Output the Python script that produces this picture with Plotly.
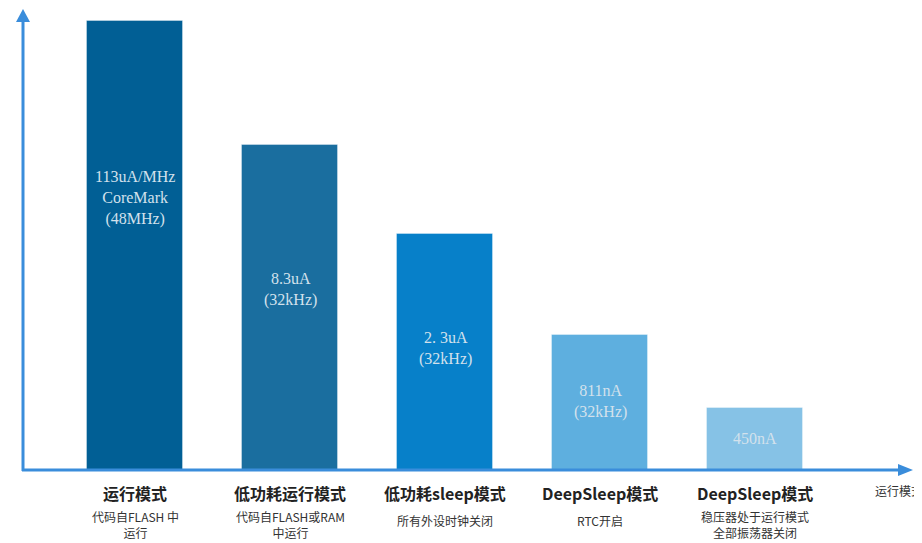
import plotly.graph_objects as go

categories = ["运行模式", "低功耗运行模式", "低功耗sleep模式", "DeepSleep模式", "DeepSleep模式 "]
sub_labels = ["代码自FLASH 中<br>运行", "代码自FLASH或RAM<br>中运行", "所有外设时钟关闭", "RTC开启", "稳压器处于运行模式<br>全部振荡器关闭"]
bar_heights = [449, 325, 236, 135, 62]
bar_texts = ["113uA/MHz<br>CoreMark<br>(48MHz)", "8.3uA<br>(32kHz)", "2. 3uA<br>(32kHz)", "811nA<br>(32kHz)", "450nA"]
bar_colors = ["#015f95", "#1a6e9f", "#0780c9", "#5eafdf", "#86c2e6"]
text_y = [272, 181, 122, 69, 32]
x_axis_label = "运行模式"

OFF = 8  # page body margin
W, H = 922 - OFF, 543 - OFF
AX = "#3a8ddb"

def px(x):
    return (x - OFF) / W

def py(y):
    return 1 - (y - OFF) / H

X0 = 135 - OFF  # pixel of first bar centre in figure
fig = go.Figure()
fig.add_trace(go.Bar(
    x=list(range(len(categories))), y=bar_heights,
    marker=dict(color=bar_colors, line=dict(color="rgba(255,255,255,0.35)", width=1)),
    width=0.62, hoverinfo="skip",
))

ann = []
for i, c in enumerate(categories):
    ann.append(dict(x=i, y=-23, xref="x", yref="y", text="<b>" + c.strip() + "</b>", showarrow=False,
                    font=dict(family="Noto Sans CJK SC", size=16, color="#222222"), yanchor="middle"))
    two = "<br>" in sub_labels[i]
    ann.append(dict(x=i, y=-72 if two else -50, xref="x", yref="y", text=sub_labels[i], showarrow=False,
                    font=dict(family="Noto Sans CJK SC", size=12, color="#333333"),
                    yanchor="bottom" if two else "middle", borderpad=0))
    ann.append(dict(x=i, y=text_y[i], xref="x", yref="y", text=bar_texts[i], showarrow=False,
                    font=dict(family="Liberation Serif", size=16, color="#d3e1ec"), yanchor="middle"))
ann.append(dict(x=px(873), y=py(490), xref="paper", yref="paper", text=x_axis_label, showarrow=False,
                xanchor="left", yanchor="middle",
                font=dict(family="Noto Sans CJK SC", size=12, color="#333333")))

shapes = [
    dict(type="line", xref="paper", yref="paper", x0=px(23), x1=px(23), y0=py(471), y1=py(20),
         line=dict(color=AX, width=3)),
    dict(type="line", xref="paper", yref="paper", x0=px(22), x1=px(900), y0=py(470), y1=py(470),
         line=dict(color=AX, width=3)),
    dict(type="path", xref="paper", yref="paper",
         path=f"M {px(23)} {py(9)} L {px(30)} {py(22)} L {px(16)} {py(22)} Z",
         fillcolor=AX, line=dict(color=AX, width=0)),
    dict(type="path", xref="paper", yref="paper",
         path=f"M {px(913)} {py(470)} L {px(898)} {py(464)} L {px(898)} {py(476)} Z",
         fillcolor=AX, line=dict(color=AX, width=0)),
]

fig.update_layout(
    width=W, height=H, margin=dict(l=0, r=0, t=0, b=0),
    plot_bgcolor="white", paper_bgcolor="white", showlegend=False,
    xaxis=dict(range=[-X0 / 155, (W - X0) / 155], visible=False, fixedrange=True),
    yaxis=dict(range=[-73, 470 - OFF], visible=False, fixedrange=True),
    annotations=ann, shapes=shapes, bargap=0,
)
fig.write_html("out.html")
